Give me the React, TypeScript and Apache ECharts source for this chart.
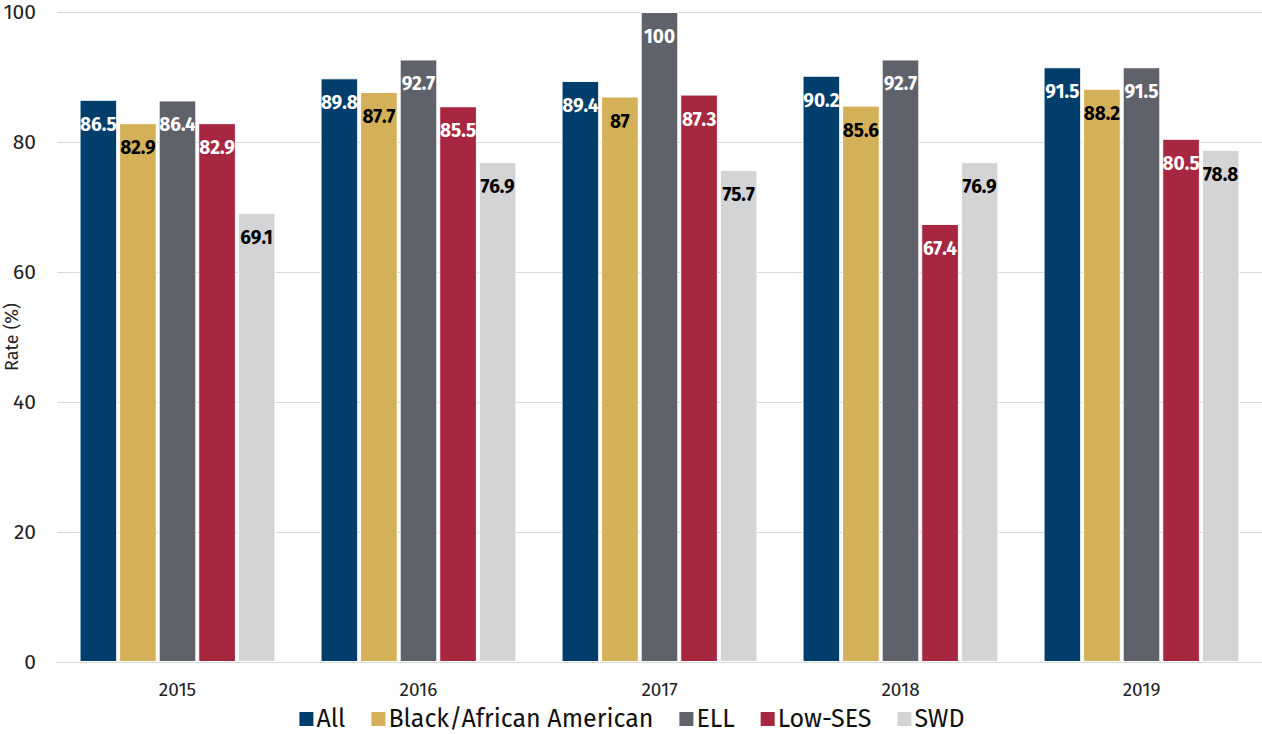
import React, { useEffect, useRef } from "react";
import * as echarts from "echarts";

const years = ["2015", "2016", "2017", "2018", "2019"];
const allVals = [86.5, 89.8, 89.4, 90.2, 91.5];
const blackVals = [82.9, 87.7, 87, 85.6, 88.2];
const ellVals = [86.4, 92.7, 100, 92.7, 91.5];
const lowSesVals = [82.9, 85.5, 87.3, 67.4, 80.5];
const swdVals = [69.1, 76.9, 75.7, 76.9, 78.8];

const seriesDefs = [
  { name: "All", data: allVals, color: "#013E6B", label: "#ffffff" },
  { name: "Black/African American", data: blackVals, color: "#D4B159", label: "#000000" },
  { name: "ELL", data: ellVals, color: "#5F626B", label: "#ffffff" },
  { name: "Low-SES", data: lowSesVals, color: "#A72640", label: "#ffffff" },
  { name: "SWD", data: swdVals, color: "#D3D4D6", label: "#000000" },
];

const FONT = "'Fira Sans', 'Open Sans', 'Noto Sans', sans-serif";

export default function App() {
  const ref = useRef<HTMLDivElement>(null);
  useEffect(() => {
    if (!ref.current) return;
    const chart = echarts.init(ref.current, undefined, { renderer: "svg" });
    chart.setOption({
      animation: false,
      textStyle: { fontFamily: FONT },
      grid: { left: 57, right: 0, top: 12, bottom: 72, outerBoundsMode: "none", containLabel: false },
      legend: {
        bottom: 2,
        left: "center",
        padding: 0,
        itemWidth: 16,
        itemHeight: 16,
        itemGap: 24,
        icon: "rect",
        textStyle: { fontSize: 25, lineHeight: 26, color: "#111", fontFamily: FONT, padding: [0, 0, 0, -3] },
      },
      xAxis: {
        type: "category",
        data: years,
        axisTick: { show: false },
        axisLine: { lineStyle: { color: "#d9d9d9", width: 1 } },
        axisLabel: { fontSize: 19, color: "#222", margin: 18 },
      },
      yAxis: {
        type: "value",
        min: 0,
        max: 100,
        interval: 20,
        name: "Rate (%)",
        nameLocation: "middle",
        nameGap: 36,
        nameMoveOverlap: false,
        nameTextStyle: { fontSize: 18, color: "#222" },
        axisLabel: { fontSize: 21, color: "#222", margin: 21 },
        splitLine: { lineStyle: { color: "#d9d9d9", width: 1 } },
      },
      series: seriesDefs.map((s) => ({
        name: s.name,
        type: "bar",
        data: s.data,
        barGap: "5%",
        barCategoryGap: "18.7%",
        itemStyle: { color: s.color, borderColor: "#ffffff", borderWidth: 1 },
        label: {
          show: true,
          position: "insideTop",
          distance: 15,
          color: s.label,
          fontSize: 19,
          fontWeight: "bold",
          fontFamily: FONT,
        },
      })),
    });
    return () => chart.dispose();
  }, []);
  return <div ref={ref} style={{ width: 1262, height: 734, position: "absolute", left: 0, top: 0 }} />;
}
